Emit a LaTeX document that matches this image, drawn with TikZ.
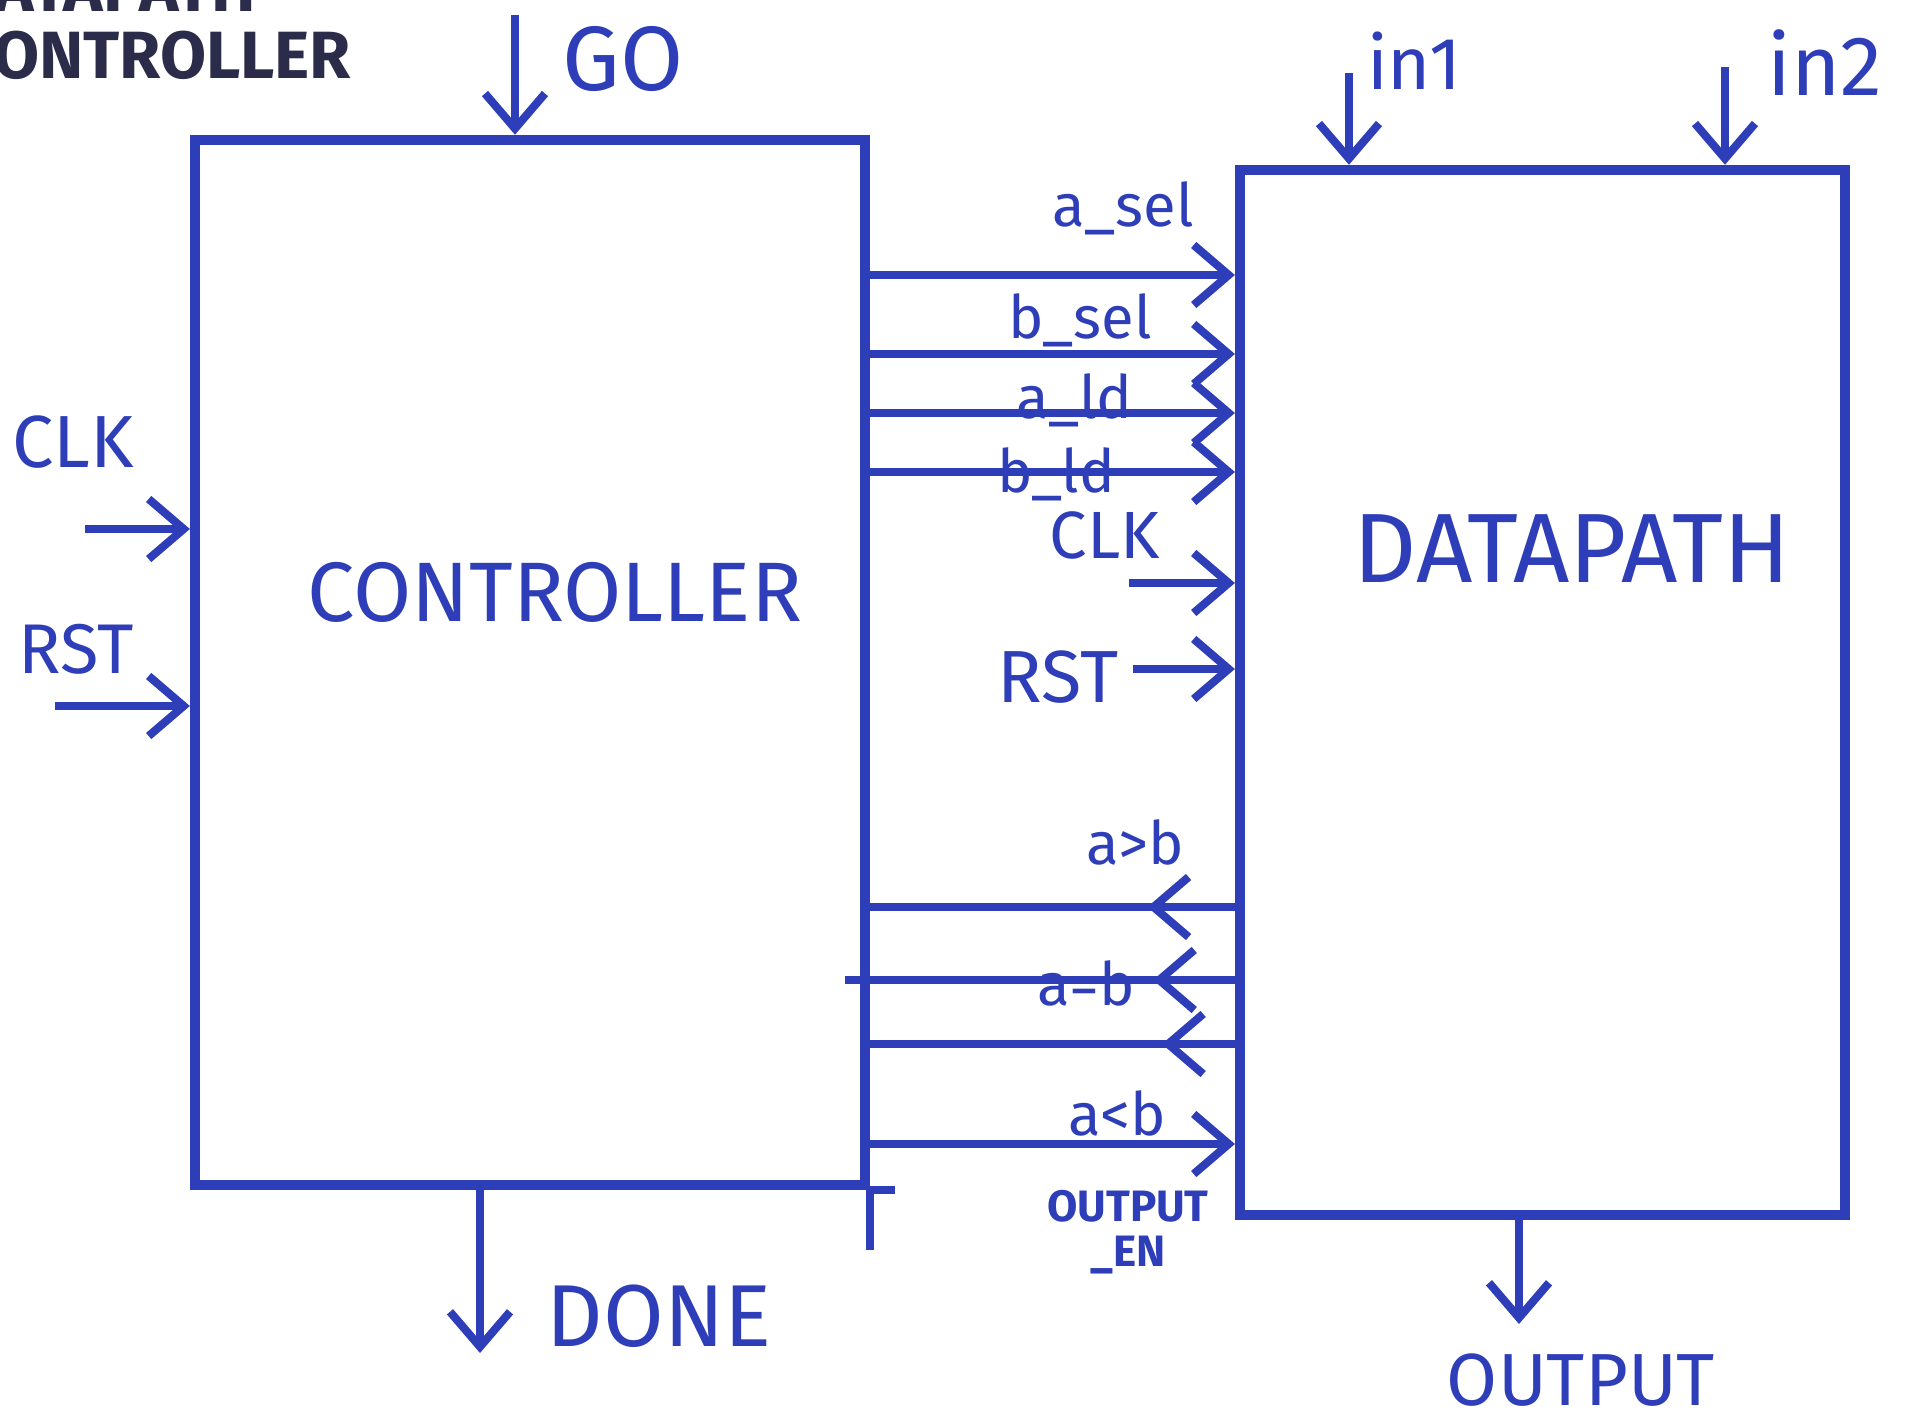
\documentclass[tikz,border=0pt]{standalone}
\usepackage{fontspec}
\setmainfont{Fira Sans}
\usetikzlibrary{arrows.meta,decorations.markings}
\definecolor{penblue}{HTML}{2E3DB8}
\definecolor{inkdark}{HTML}{2B2B4A}

\begin{document}
\begin{tikzpicture}[x=0.01cm,y=-0.01cm,line width=2.3pt,penblue,
  box/.style={draw,rectangle,line width=2.8pt,inner sep=0pt},
  sig/.style={-{Straight Barb[length=3.5mm,width=6mm]}},
  midtip/.style={postaction={decorate},decoration={markings,
    mark=at position #1 with {\arrow{Straight Barb[length=3.5mm,width=6mm]}}}},
  lbl/.style={text=penblue,inner sep=1pt,font=\fontsize{17}{17}\selectfont},
  biglbl/.style={text=penblue,inner sep=1pt,font=\fontsize{22}{22}\selectfont}]
  \useasboundingbox (0,0) rectangle (1914,1427);
  \clip (0,0) rectangle (1914,1427);

  % title, cut at the page edge
  \node[anchor=west,inner sep=0pt,text=inkdark,font=\bfseries\fontsize{19}{19}\selectfont] (ttl1) at (-52,-12) {DATAPATH};
  \node[anchor=west,inner sep=0pt,text=inkdark,font=\bfseries\fontsize{19}{19}\selectfont] (ttl2) at (-48,55) {CONTROLLER};

  % the two blocks
  \node[box,minimum width=6.7cm,minimum height=10.45cm] (ctrl) at (530,662.5) {};
  \node[box,minimum width=6.05cm,minimum height=10.45cm] (dp) at (1542.5,692.5) {};
  \node[font=\fontsize{24}{24}\selectfont] (ctrltxt) at (555,592) {CONTROLLER};
  \node[font=\fontsize{28}{28}\selectfont] (dptxt) at (1572,549) {DATAPATH};
  \draw (ctrl.south east) -- ++(0,60);
  \draw (ctrl.south east) -- ++(25,0);

  % control signals
  \coordinate (asel) at (0,275);
  \coordinate (bsel) at (0,354);
  \coordinate (ald) at (0,413);
  \coordinate (bld) at (0,472);
  \coordinate (gt) at (0,907);
  \coordinate (eq) at (0,980);
  \coordinate (lt) at (0,1044);
  \coordinate (oen) at (0,1144);
  \draw[sig] (ctrl.east |- asel) -- (dp.west |- asel);
  \draw[sig] (ctrl.east |- bsel) -- (dp.west |- bsel);
  \draw[sig] (ctrl.east |- ald) -- (dp.west |- ald);
  \draw[sig] (ctrl.east |- bld) -- (dp.west |- bld);
  \draw[midtip=0.24] (dp.west |- gt) -- (ctrl.east |- gt);
  \draw[midtip=0.21] (dp.west |- eq) -- ([xshift=-0.25cm]ctrl.east |- eq);
  \draw[midtip=0.20] (dp.west |- lt) -- (ctrl.east |- lt);
  \draw[sig] (ctrl.east |- oen) -- (dp.west |- oen);
  \node[lbl] (asellbl) at (1123,208) {a\_sel};
  \node[lbl] (bsellbl) at (1080,320) {b\_sel};
  \node[lbl] (aldlbl) at (1074,400) {a\_ld};
  \node[lbl] (bldlbl) at (1056,474) {b\_ld};
  \node[lbl] (gtlbl) at (1135,842) {a>b};
  \node[lbl] (eqlbl) at (1086,983) {a=b};
  \node[lbl] (ltlbl) at (1117,1113) {a<b};
  \node[lbl,font=\bfseries\fontsize{12.5}{13}\selectfont,align=center] (oenlbl) at (1128,1232) {OUTPUT\\\_EN};

  % clock and reset
  \coordinate (clkl) at (85,529);
  \coordinate (rstl) at (55,706);
  \coordinate (clkr) at (1129,583);
  \coordinate (rstr) at (1133,669);
  \draw[sig] (clkl) -- (ctrl.west |- clkl);
  \draw[sig] (rstl) -- (ctrl.west |- rstl);
  \draw[sig] (clkr) -- (dp.west |- clkr);
  \draw[sig] (rstr) -- (dp.west |- rstr);
  \node[biglbl,font=\fontsize{21}{21}\selectfont] (clkllbl) at (73,442) {CLK};
  \node[biglbl,font=\fontsize{20}{20}\selectfont] (rstllbl) at (76,649) {RST};
  \node[lbl,font=\fontsize{19}{19}\selectfont] (clkrlbl) at (1105,535) {CLK};
  \node[lbl,font=\fontsize{21}{21}\selectfont] (rstrlbl) at (1058,677) {RST};

  % inputs and outputs
  \coordinate (go) at (515,15);
  \coordinate (in1) at (1349,73);
  \coordinate (in2) at (1725,67);
  \coordinate (done) at (480,1353);
  \coordinate (out) at (1519,1324);
  \draw[sig] (go) -- (go |- ctrl.north);
  \draw[sig] (in1) -- (in1 |- dp.north);
  \draw[sig] (in2) -- (in2 |- dp.north);
  \draw[sig] (done |- ctrl.south) -- (done);
  \draw[sig] (out |- dp.south) -- (out);
  \node[biglbl,font=\fontsize{26}{26}\selectfont] (golbl) at (623,59) {GO};
  \node[lbl,font=\fontsize{21}{21}\selectfont] (in1lbl) at (1414,61) {in1};
  \node[lbl,font=\fontsize{24}{24}\selectfont] (in2lbl) at (1825,63) {in2};
  \node[biglbl,font=\fontsize{25}{25}\selectfont] (donelbl) at (659,1316) {DONE};
  \node[biglbl,font=\fontsize{21}{21}\selectfont] (outlbl) at (1581,1380) {OUTPUT};
\end{tikzpicture}
\end{document}
